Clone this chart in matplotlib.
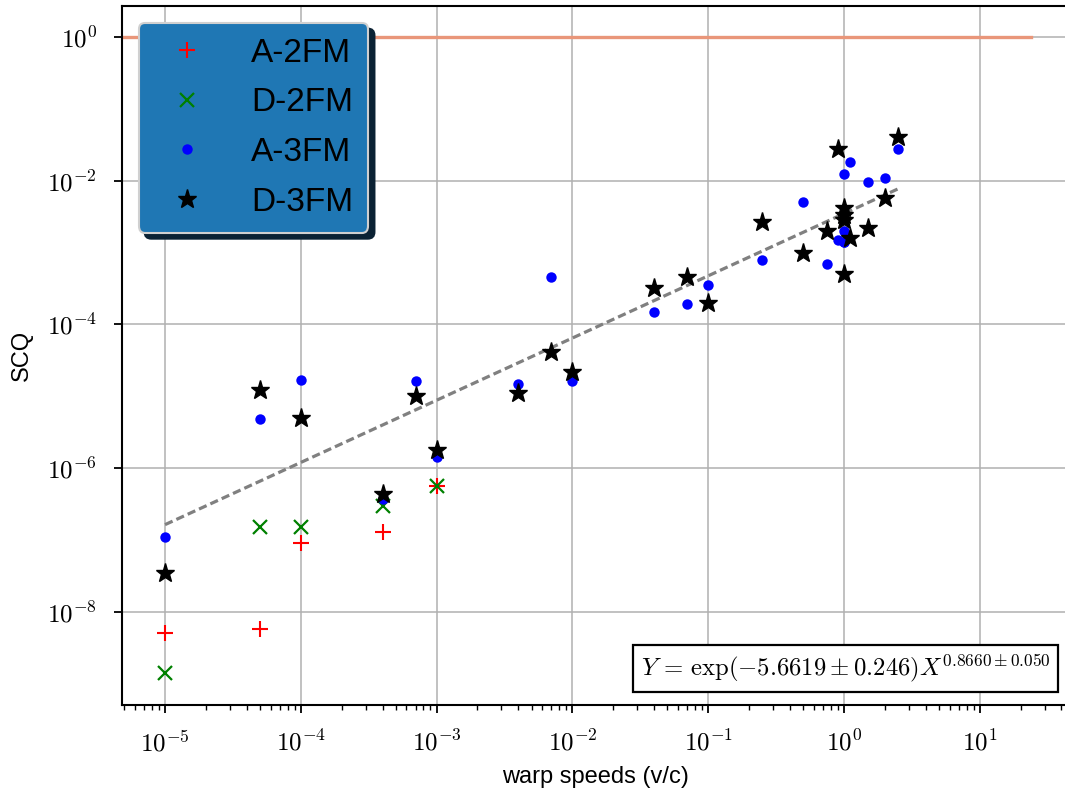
"""SCQ vs warp speed scatter with power-law fit."""

import matplotlib

matplotlib.use("Agg")
import matplotlib.pyplot as plt
import numpy as np
from matplotlib.patches import Shadow
from matplotlib.ticker import FuncFormatter, LogLocator, NullLocator

plt.rcParams["font.family"] = ["Liberation Sans", "DejaVu Sans"]
plt.rcParams["mathtext.fontset"] = "cm"

# A-2FM
a2_x = [1e-5, 5e-5, 1e-4, 4e-4, 1e-3]
a2_y = [5.1e-9, 5.7e-9, 9e-8, 1.3e-7, 5.7e-7]
# D-2FM
d2_x = [1e-5, 5e-5, 1e-4, 4e-4, 1e-3]
d2_y = [1.4e-9, 1.5e-7, 1.5e-7, 3.0e-7, 5.6e-7]
# A-3FM
a3_x = [1e-5, 5e-5, 1e-4, 4e-4, 7e-4, 1e-3, 4e-3, 7e-3, 1e-2, 0.04, 0.07, 0.1,
        0.25, 0.5, 0.75, 0.9, 1.0, 1.0, 1.0, 1.0, 1.1, 1.5, 2.0, 2.5]
a3_y = [1.1e-7, 4.8e-6, 1.7e-5, 3.7e-7, 1.6e-5, 1.4e-6, 1.5e-5, 4.6e-4, 1.6e-5,
        1.5e-4, 1.9e-4, 3.5e-4, 7.8e-4, 5.0e-3, 6.9e-4, 1.5e-3, 1.4e-3, 2.0e-3,
        1.25e-2, 1.4e-3, 1.8e-2, 9.5e-3, 1.1e-2, 2.8e-2]
# D-3FM
d3_x = [1e-5, 5e-5, 1e-4, 4e-4, 7e-4, 1e-3, 4e-3, 7e-3, 1e-2, 0.04, 0.07, 0.1,
        0.25, 0.5, 0.75, 0.9, 1.0, 1.0, 1.0, 1.0, 1.1, 1.5, 2.0, 2.5]
d3_y = [3.5e-8, 1.2e-5, 4.9e-6, 4.3e-7, 1.0e-5, 1.8e-6, 1.1e-5, 4.1e-5, 2.2e-5,
        3.2e-4, 4.6e-4, 2.0e-4, 2.7e-3, 1.0e-3, 2.0e-3, 2.8e-2, 5.1e-4, 2.8e-3,
        3.3e-3, 4.2e-3, 1.6e-3, 2.2e-3, 5.7e-3, 4.0e-2]

# power-law fit parameters
fit_a, fit_a_err = -5.6619, 0.246
fit_b, fit_b_err = 0.8660, 0.050
fit_x = [1e-5, 2.5]
ref_x = [1e-6, 24.0]
ref_y = 1.0


def pow10_label(v, pos):
    return rf"$10^{{{int(round(np.log10(v)))}}}$"


fig = plt.figure(figsize=(10.65, 7.92), dpi=100)
ax = fig.add_axes([122 / 1065, 87 / 792, 946 / 1065, 699 / 792])

ax.plot(ref_x, [ref_y, ref_y], color="#e9967a", linewidth=2.4, zorder=2)

xf = np.array(fit_x)
ax.plot(xf, np.exp(fit_a) * xf ** fit_b, color="gray", linewidth=2.3,
        linestyle=(0, (2.6, 1.3)), zorder=3)

ax.plot(a2_x, a2_y, "+", color="red", markersize=11, markeredgewidth=1.5,
        label="A-2FM", zorder=4)
ax.plot(d2_x, d2_y, "x", color="green", markersize=10, markeredgewidth=1.6,
        label="D-2FM", zorder=4)
ax.plot(a3_x, a3_y, "o", color="blue", markersize=7.5, markeredgewidth=0,
        label="A-3FM", zorder=4)
ax.plot(d3_x, d3_y, "*", color="black", markersize=14, markeredgewidth=1.0,
        label="D-3FM", zorder=5)

ax.set_xscale("log")
ax.set_yscale("log")
ax.set_xlim(10 ** -5.317, 10 ** 1.65)
ax.set_ylim(10 ** -9.30, 10 ** 0.432)
ax.set_xticks([10.0 ** k for k in range(-5, 2)])
ax.xaxis.set_minor_locator(LogLocator(base=10, subs=np.arange(2, 10), numticks=20))
ax.set_yticks([10.0 ** k for k in range(-8, 1, 2)])
ax.yaxis.set_minor_locator(NullLocator())
ax.xaxis.set_major_formatter(FuncFormatter(pow10_label))
ax.yaxis.set_major_formatter(FuncFormatter(pow10_label))

ax.grid(True, which="major", color="#b0b0b0", linewidth=1.1)
ax.set_axisbelow(True)
ax.tick_params(which="major", length=6, width=1.3, labelsize=18, pad=12)
ax.tick_params(which="minor", length=3.5, width=1.0)
for sp in ax.spines.values():
    sp.set_linewidth(1.5)

ax.set_xlabel("warp speeds (v/c)", fontsize=17, labelpad=7)
ax.set_ylabel("SCQ", fontsize=17, labelpad=10)

leg = ax.legend(loc="upper left", fontsize=24, facecolor="#1f77b4", framealpha=1,
                edgecolor="#d0d0d0", handletextpad=0.93, borderpad=0.45,
                labelspacing=0.56, handlelength=2.0)
leg.get_frame().set_linewidth(1.5)

ax.text(0.9814, 0.0295,
        rf"$Y\,=\,\exp({fit_a:.4f}\pm{fit_a_err:.3f})X^{{{fit_b:.4f}\pm{fit_b_err:.3f}}}$",
        transform=ax.transAxes, ha="right", va="bottom", fontsize=17.8, zorder=6,
        bbox=dict(boxstyle="square,pad=0.3", facecolor="white", edgecolor="black",
                  linewidth=1.6))

# legend shadow: draw once so the legend frame has its final bounds
fig.canvas.draw()
shadow = Shadow(leg.legendPatch, 4.3, -4.3, facecolor="#0b2234",
                edgecolor="#0b2234", alpha=1.0)
shadow.set_zorder(leg.get_zorder() - 0.01)
ax.add_artist(shadow)

fig.savefig("out.png", dpi=100, facecolor="white")
